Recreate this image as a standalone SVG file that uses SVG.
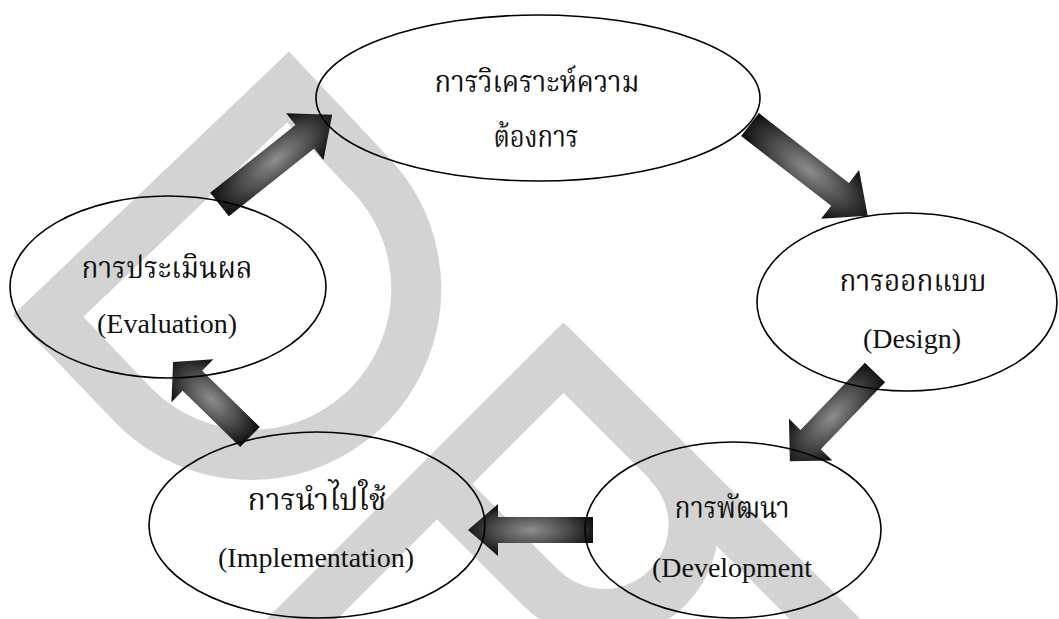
<svg xmlns="http://www.w3.org/2000/svg" width="1059" height="619" viewBox="0 0 1059 619">
<style>
.wm{fill:none;stroke:#d3d3d3;stroke-width:50;stroke-linejoin:miter;stroke-miterlimit:10}
.node ellipse{fill:none;stroke:#000;stroke-width:1.6}
.th{font-family:"Noto Serif Thai","Noto Sans Thai","Liberation Serif",serif;font-size:30px;fill:#111;text-anchor:middle}
.en{font-family:"Liberation Serif","Times New Roman",serif;font-size:28px;fill:#111;text-anchor:middle}
.arr{fill:url(#ag)}
</style>
<defs>
<radialGradient id="ag" cx="0.5" cy="0.5" r="0.55">
<stop offset="0" stop-color="#8e8e8e"/>
<stop offset="0.55" stop-color="#4a4a4a"/>
<stop offset="1" stop-color="#0a0a0a"/>
</radialGradient>
</defs>
<rect width="1059" height="619" fill="#fff"/>
<g id="watermark">
<path class="wm" d="M48,316 L288,87 L368,172 A166,166 0 0 1 251,455 A166,166 0 0 1 134,406 Z"/>
<path class="wm" d="M250,671 L563.5,357.5 L900,694"/>
<path class="wm" d="M437,484 L541,588 A89.6,89.6 0 0 0 693.6,525 A89.6,89.6 0 0 0 667,462"/>
</g>
<g id="connectors">
<polygon class="arr" points="0,-15 109,-15 109,-30 144,0 109,30 109,15 0,15" transform="translate(219.5,204.5) rotate(-38.5)"/>
<polygon class="arr" points="0,-14.5 114,-14.5 114,-31 149,0 114,31 114,14.5 0,14.5" transform="translate(750,124.5) rotate(37.8)"/>
<polygon class="arr" points="0,-14 93,-14 93,-30 123,0 93,30 93,14 0,14" transform="translate(875,372.5) rotate(133.8)"/>
<polygon class="arr" points="0,-13 95,-13 95,-26 125,0 95,26 95,13 0,13" transform="translate(593,530) rotate(180)"/>
<polygon class="arr" points="0,-14 80.5,-14 80.5,-30 107.5,0 80.5,30 80.5,14 0,14" transform="translate(250,437) rotate(-135.7)"/>
</g>
<g id="node-analysis" class="node">
<ellipse cx="538" cy="98" rx="222" ry="83"/>
<text class="th" x="537" y="92" textLength="205" lengthAdjust="spacingAndGlyphs">การวิเคราะห์ความ</text>
<text class="th" x="536" y="147" textLength="85" lengthAdjust="spacingAndGlyphs">ต้องการ</text>
</g>
<g id="node-design" class="node">
<ellipse cx="907" cy="302" rx="150" ry="89"/>
<text class="th" x="913" y="291" textLength="147" lengthAdjust="spacingAndGlyphs">การออกแบบ</text>
<text class="en" x="912" y="348">(Design)</text>
</g>
<g id="node-development" class="node">
<ellipse cx="733" cy="530" rx="148" ry="88"/>
<text class="th" x="732" y="518" textLength="115" lengthAdjust="spacingAndGlyphs">การพัฒนา</text>
<text class="en" x="732" y="577">(Development</text>
</g>
<g id="node-implementation" class="node">
<ellipse cx="317" cy="525" rx="168" ry="93"/>
<text class="th" x="317" y="510" textLength="139" lengthAdjust="spacingAndGlyphs">การนำไปใช้</text>
<text class="en" x="316" y="567">(Implementation)</text>
</g>
<g id="node-evaluation" class="node">
<ellipse cx="168" cy="287" rx="158" ry="91"/>
<text class="th" x="167" y="278" textLength="171" lengthAdjust="spacingAndGlyphs">การประเมินผล</text>
<text class="en" x="167" y="333">(Evaluation)</text>
</g>
</svg>
